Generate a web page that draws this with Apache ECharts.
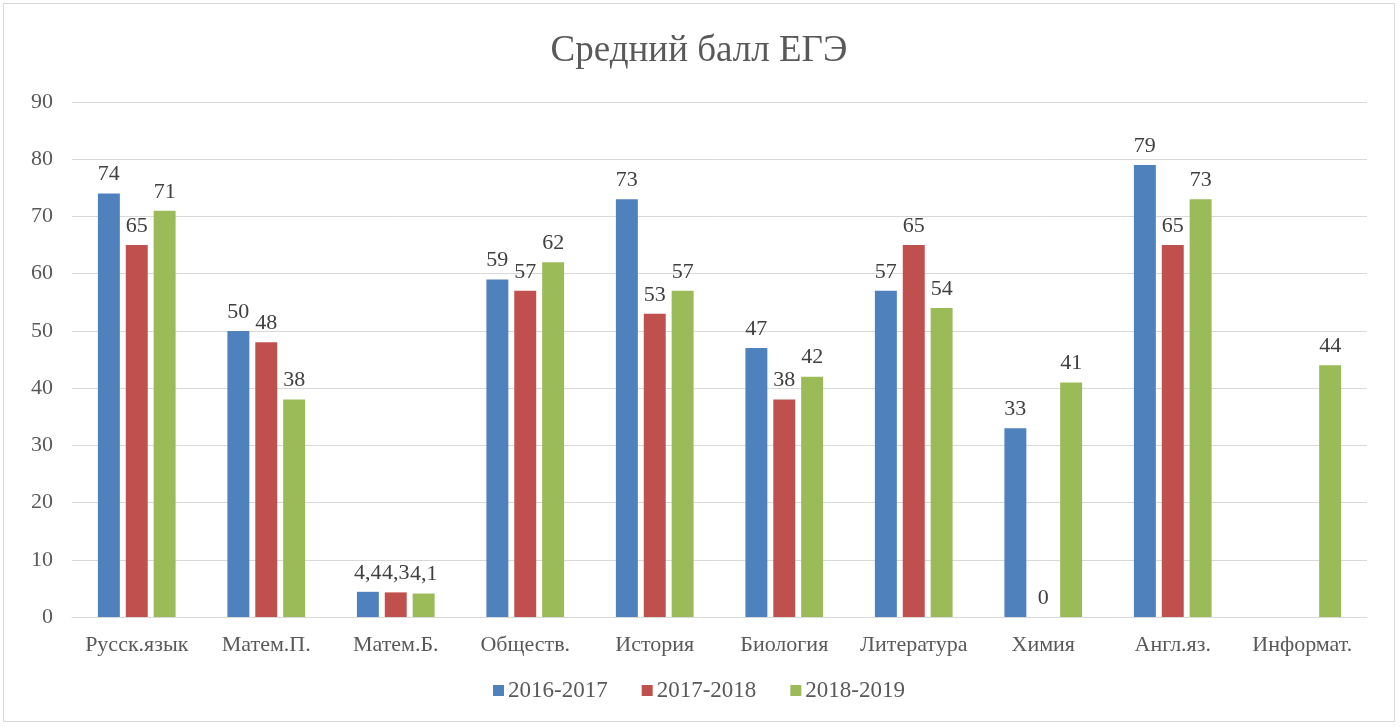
<!DOCTYPE html>
<html lang="ru">
<head>
    <meta charset="UTF-8">
    <title>Средний балл ЕГЭ</title>
    <script type="text/javascript" src="https://cdn.jsdelivr.net/npm/echarts@6/dist/echarts.min.js"></script>
    <style>
        html, body { margin: 0; padding: 0; background: #fff; }
        #main { position: absolute; left: 3px; top: 3px; width: 1392px; height: 719px; border: 1px solid #d9d9d9; box-sizing: border-box; }
    </style>
</head>
<body>
<div id="main"></div>
<script type="text/javascript">
    // данные
    var subjects = ['Русск.язык', 'Матем.П.', 'Матем.Б.', 'Обществ.', 'История', 'Биология', 'Литература', 'Химия', 'Англ.яз.', 'Информат.'];
    var years = ['2016-2017', '2017-2018', '2018-2019'];
    var y2017 = [74, 50, 4.4, 59, 73, 47, 57, 33, 79, null];
    var y2018 = [65, 48, 4.3, 57, 53, 38, 65, 0, 65, null];
    var y2019 = [71, 38, 4.1, 62, 57, 42, 54, 41, 73, 44];
    var colors = ['#4F81BD', '#C0504D', '#9BBB59'];

    var font = '"Liberation Serif", "Times New Roman", serif';

    function makeSeries(name, data, color) {
        return {
            name: name,
            type: 'bar',
            data: data,
            barGap: '27%',
            barCategoryGap: '40%',
            itemStyle: { color: color },
            label: {
                show: true,
                position: 'top',
                distance: 8,
                fontFamily: font,
                fontSize: 22,
                color: '#404040',
                formatter: function (p) {
                    if (p.value === null || p.value === undefined) return '';
                    return String(p.value).replace('.', ',');
                }
            }
        };
    }

    var chart = echarts.init(document.getElementById('main'));
    var option = {
        animation: false,
        textStyle: { fontFamily: font },
        title: {
            text: 'Средний балл ЕГЭ',
            left: 'center',
            top: 24,
            textStyle: { fontFamily: font, fontSize: 37, fontWeight: 'normal', color: '#595959' }
        },
        legend: {
            data: years,
            bottom: 14,
            left: 'center',
            itemWidth: 11,
            itemHeight: 11,
            itemGap: 34,
            icon: 'rect',
            textStyle: { fontFamily: font, fontSize: 23, color: '#595959', padding: [0, 0, 0, -1] }
        },
        grid: {
            left: 68,
            right: 27,
            top: 98,
            bottom: 104
        },
        xAxis: {
            type: 'category',
            data: subjects,
            axisTick: { show: false },
            axisLine: { lineStyle: { color: '#d9d9d9', width: 1 } },
            axisLabel: { fontFamily: font, fontSize: 22, color: '#595959', margin: 17, interval: 0 }
        },
        yAxis: {
            type: 'value',
            min: 0,
            max: 90,
            interval: 10,
            axisLine: { show: false },
            axisTick: { show: false },
            axisLabel: { fontFamily: font, fontSize: 22, color: '#595959', margin: 19 },
            splitLine: { lineStyle: { color: '#d9d9d9', width: 1 } }
        },
        series: [
            makeSeries(years[0], y2017, colors[0]),
            makeSeries(years[1], y2018, colors[1]),
            makeSeries(years[2], y2019, colors[2])
        ]
    };
    chart.setOption(option);
</script>
</body>
</html>
